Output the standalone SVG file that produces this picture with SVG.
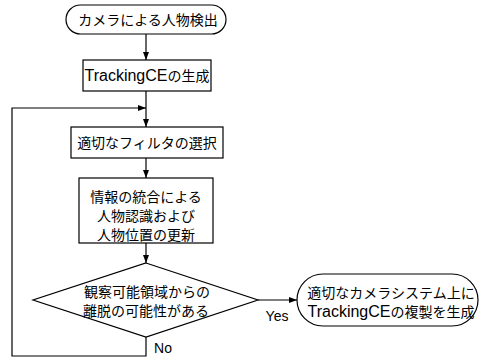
<svg xmlns="http://www.w3.org/2000/svg" width="482" height="358" viewBox="0 0 482 358">
<defs>
<style>
.s{fill:#fff;stroke:#000;stroke-width:1.2}
.c{fill:none;stroke:#000;stroke-width:1.2}
.t{font-family:"Liberation Sans","Noto Sans CJK JP",sans-serif;font-size:14px;fill:#000;text-anchor:middle}
.l{font-size:16px}
</style>
<marker id="ah" viewBox="0 0 8 6" refX="8" refY="3" markerWidth="8" markerHeight="6" markerUnits="userSpaceOnUse" orient="auto">
<path d="M0,0 L8,3 L0,6 Z" fill="#000"/>
</marker>
</defs>
<rect width="482" height="358" fill="#fff"/>
<g id="connectors">
<path class="c" d="M146,34 V60" marker-end="url(#ah)"/>
<path class="c" d="M146,91 V127" marker-end="url(#ah)"/>
<path class="c" d="M146,158 V178" marker-end="url(#ah)"/>
<path class="c" d="M146,243 V263" marker-end="url(#ah)"/>
<path class="c" d="M258,300 H297" marker-end="url(#ah)"/>
<path class="c" d="M146,337 V356 H12 V108 H146" marker-end="url(#ah)"/>
<text class="t" x="277" y="321">Yes</text>
<text class="t" x="163" y="353">No</text>
</g>
<g id="start">
<rect class="s" x="66" y="5" width="160" height="29" rx="14.5"/>
<text class="t" x="148" y="25">カメラによる人物検出</text>
</g>
<g id="create">
<rect class="s" x="83" y="60" width="128" height="31"/>
<text class="t" x="147" y="81"><tspan class="l">TrackingCE</tspan>の生成</text>
</g>
<g id="filter">
<rect class="s" x="71" y="127" width="152" height="31"/>
<text class="t" x="147" y="148">適切なフィルタの選択</text>
</g>
<g id="update">
<rect class="s" x="79" y="178" width="134" height="65"/>
<text class="t" x="146" y="202">情報の統合による</text>
<text class="t" x="146" y="221">人物認識および</text>
<text class="t" x="146" y="240">人物位置の更新</text>
</g>
<g id="decision">
<polygon class="s" points="146,263 258,300 146,337 33,300"/>
<text class="t" x="147" y="297">観察可能領域からの</text>
<text class="t" x="146" y="316">離脱の可能性がある</text>
</g>
<g id="copy">
<rect class="s" x="297" y="274" width="181" height="52" rx="26"/>
<text class="t" x="391" y="298">適切なカメラシステム上に</text>
<text class="t" x="391" y="317"><tspan class="l">TrackingCE</tspan>の複製を生成</text>
</g>
</svg>
